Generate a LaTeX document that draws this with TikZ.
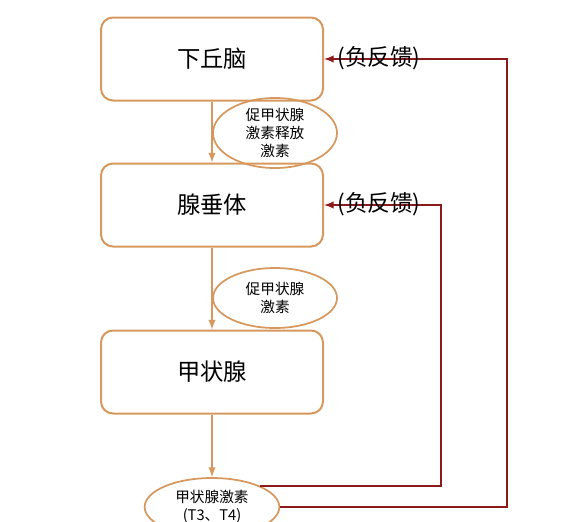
\documentclass[tikz,border=0pt]{standalone}
\usepackage{fontspec}
\setmainfont{Noto Sans CJK SC}
\usepackage{tikz}
\usetikzlibrary{arrows}
\usetikzlibrary{shapes.geometric}
\definecolor{drueseOrange}{RGB}{214,152,94}
\definecolor{rueckRot}{RGB}{140,26,26}

\begin{document}
\begin{tikzpicture}[
		x=0.75pt, y=-0.75pt,
		>=latex,
		organ/.style={draw=drueseOrange, line width=1.5pt, rounded corners=9pt,
			minimum width=166.5pt, minimum height=62.25pt,
			font=\fontsize{17.5}{21}\selectfont},
		hormon/.style={draw=drueseOrange, line width=1.3pt, ellipse, inner sep=0pt,
			align=center, font=\fontsize{11}{13.5}\selectfont},
		pfeil/.style={->, draw=drueseOrange, line width=1.5pt},
		rueck/.style={->, draw=rueckRot, line width=1.5pt},
		rueckText/.style={font=\fontsize{17}{20}\selectfont}
	]
		\useasboundingbox (0,0) rectangle (587,522);
		
		\node[organ] (hypo) at (212,59) {下丘脑};
		\node[organ] (pit) at (212,205) {腺垂体};
		\node[organ] (thyr) at (212,372) {甲状腺};
		
		\node[hormon, minimum width=93pt, minimum height=44pt] (trh) at (275,133) {促甲状腺\\激素释放\\激素};
		\node[hormon, minimum width=93pt, minimum height=45pt] (tsh) at (275,298) {促甲状腺\\激素};
		\node[hormon, minimum width=101pt, minimum height=43.5pt] (th) at (212,507) {甲状腺激素\\(T3、T4)};
		
		\draw[pfeil] (hypo) -- (pit);
		\draw[pfeil] (pit) -- (thyr);
		\draw[pfeil] (thyr) -- (th);
		
		% Rueckkopplung
		\coordinate (eckO) at (507,0);
		\coordinate (eckU) at (441,0);
		\draw[rueck] (th.east) -| (eckO |- hypo.east) -- (hypo.east);
		\draw[rueck] (th.north east) -| (eckU |- pit.east) -- (pit.east);
		\node[rueckText] (fb1) at (379,58) {(负反馈)};
		\node[rueckText] (fb2) at (379,204) {(负反馈)};
	\end{tikzpicture}
\end{document}
